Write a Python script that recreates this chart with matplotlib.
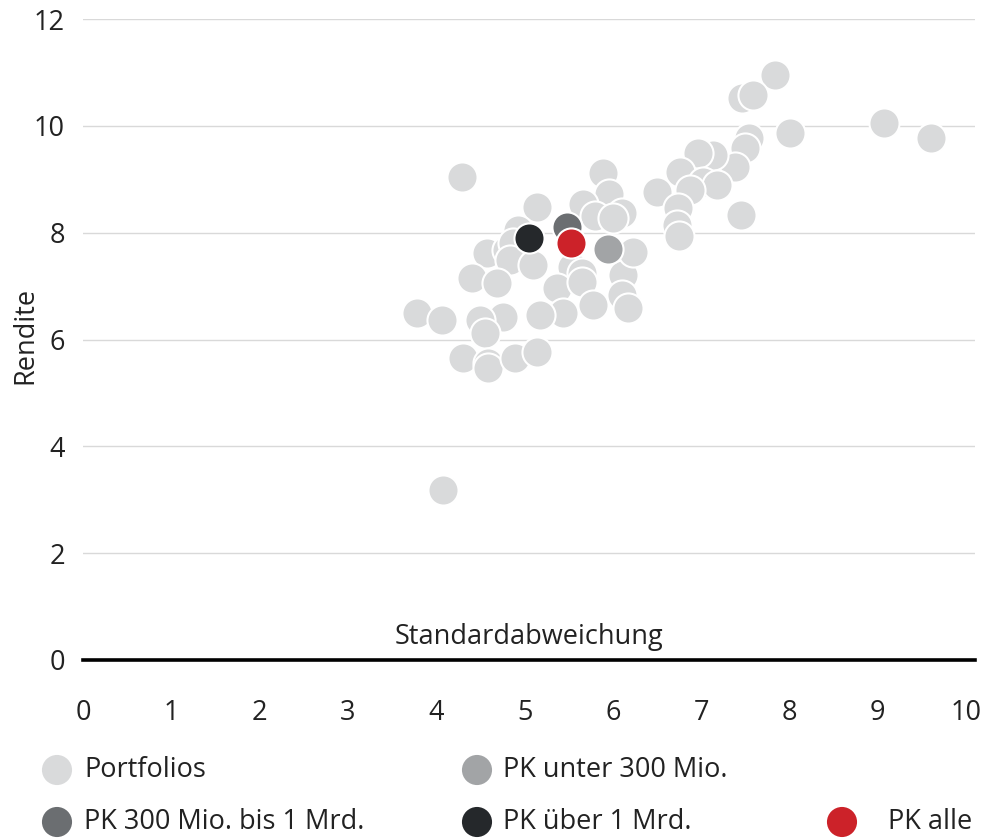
import matplotlib
matplotlib.use("Agg")
import matplotlib.pyplot as plt

# Data: (Standardabweichung, Rendite)
portfolio_x = [4.29, 5.14, 5.89, 5.96, 5.66, 5.80, 6.10, 6.00, 4.92, 4.58, 4.80, 4.87, 4.84, 5.10,
               5.54, 5.65, 4.41, 4.69, 6.12, 5.37, 5.65, 6.10, 5.78, 6.17, 5.44, 5.18, 4.76, 4.50,
               4.55, 3.78, 4.07, 4.30, 4.59, 4.59, 4.89, 5.14, 6.23, 4.08, 7.83, 7.46, 7.59, 8.01,
               9.07, 9.60, 7.54, 7.50, 7.38, 7.13, 6.96, 6.76, 7.02, 7.18, 6.87, 6.50, 6.74, 6.73,
               6.75, 7.45]
portfolio_y = [9.04, 8.48, 9.12, 8.73, 8.54, 8.31, 8.37, 8.28, 8.05, 7.62, 7.68, 7.81, 7.49, 7.40,
               7.36, 7.25, 7.15, 7.06, 7.21, 6.97, 7.08, 6.84, 6.65, 6.59, 6.50, 6.46, 6.42, 6.37,
               6.12, 6.50, 6.37, 5.66, 5.56, 5.47, 5.66, 5.77, 7.64, 3.18, 10.96, 10.52, 10.58, 9.87,
               10.06, 9.78, 9.78, 9.59, 9.23, 9.46, 9.50, 9.14, 8.95, 8.90, 8.80, 8.76, 8.46, 8.15,
               7.93, 8.33]

special_labels = ["PK unter 300 Mio.", "PK 300 Mio. bis 1 Mrd.", "PK über 1 Mrd.", "PK alle"]
special_x = [5.95, 5.48, 5.05, 5.53]
special_y = [7.69, 8.11, 7.90, 7.81]
special_colors = ["#a2a4a6", "#6b6e71", "#25282b", "#cc2229"]

x_ticks = [0, 1, 2, 3, 4, 5, 6, 7, 8, 9, 10]
y_ticks = [0, 2, 4, 6, 8, 10, 12]

plt.rcParams['font.family'] = ['Open Sans', 'DejaVu Sans']
FS = 19.5
TC = "#222222"

W, H = 983, 839
fig = plt.figure(figsize=(W / 100, H / 100), dpi=100)
ax = fig.add_axes([83 / W, (H - 660) / H, (975 - 83) / W, (660 - 19) / H])

S = 470
ax.scatter(portfolio_x, portfolio_y, s=S, color="#d9dadb", edgecolors="white", linewidths=1.5, zorder=3)
for x, y, c in zip(special_x, special_y, special_colors):
    ax.scatter([x], [y], s=S, color=c, edgecolors="white", linewidths=1.5, zorder=4)

ax.set_xlim(0, 10.1)
ax.set_ylim(0, 12)
ax.set_xticks(x_ticks)
ax.set_yticks(y_ticks)
ax.set_xticklabels([str(t) for t in x_ticks])
ax.set_yticklabels([str(t) for t in y_ticks])
ax.tick_params(axis='both', length=0, labelsize=FS, colors=TC)
ax.tick_params(axis='x', pad=28)
ax.tick_params(axis='y', pad=13)
for s in ax.spines.values():
    s.set_visible(False)
ax.grid(axis='y', color="#d9d9d9", linewidth=1.0, zorder=0)
ax.axhline(0, color="black", linewidth=2.6, zorder=5, clip_on=False)

fig.text(25 / W, (H - 335) / H, "Rendite", rotation=90, ha="center", va="center",
         fontsize=FS, color=TC)
ax.text(0.5, 0.036, "Standardabweichung", transform=ax.transAxes, ha="center", va="center",
        fontsize=FS, color=TC)

# Legend (manual layout)
legend_items = [("Portfolios", "#d9dadb", 57, 770, 84),
                (special_labels[0], special_colors[0], 477, 770, 503),
                (special_labels[1], special_colors[1], 57, 822, 84),
                (special_labels[2], special_colors[2], 477, 822, 503),
                (special_labels[3], special_colors[3], 842, 822, 888)]
for label, col, mx, my, tx in legend_items:
    ax.scatter([mx / W], [(H - my) / H], s=S, color=col, edgecolors="none",
               transform=fig.transFigure, clip_on=False, zorder=6)
    fig.text(tx / W, (H - my) / H, label, ha="left", va="center", fontsize=FS, color=TC)

fig.savefig("out.png", dpi=100)
